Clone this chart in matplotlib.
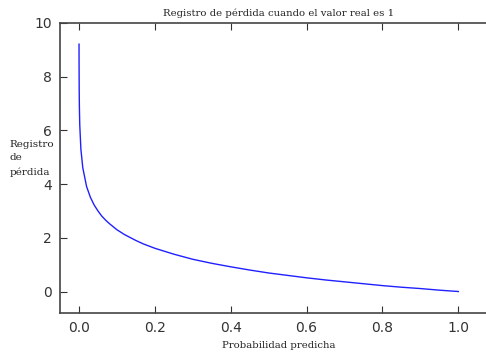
import matplotlib
matplotlib.use('Agg')
import matplotlib.pyplot as plt

# predicted probability vs log loss (true label = 1)
prob = [0.0001, 0.0002, 0.0005, 0.001, 0.002, 0.005, 0.01, 0.02, 0.03, 0.04,
        0.05, 0.06, 0.07, 0.08, 0.1, 0.12, 0.15, 0.17, 0.2, 0.25, 0.3, 0.35,
        0.4, 0.45, 0.5, 0.55, 0.6, 0.65, 0.7, 0.75, 0.8, 0.85, 0.9, 0.95, 1.0]
loss = [9.21, 8.52, 7.60, 6.91, 6.21, 5.30, 4.61, 3.91, 3.51, 3.22,
        3.00, 2.81, 2.66, 2.53, 2.30, 2.12, 1.90, 1.77, 1.61, 1.39, 1.20, 1.05,
        0.92, 0.80, 0.69, 0.60, 0.51, 0.43, 0.36, 0.29, 0.22, 0.16, 0.11, 0.05, 0.0]

xticks = [0.0, 0.2, 0.4, 0.6, 0.8, 1.0]
yticks = [0, 2, 4, 6, 8, 10]

fig = plt.figure(figsize=(4.86, 3.52), dpi=100)
# axes run past the right edge of the canvas, as in the original export
ax = fig.add_axes([0.1235, 0.1108, 0.9, 0.824])
ax.plot(prob, loss, color='#2020ff', linewidth=1.0)

ax.set_xlim(-0.05, 1.103)
ax.set_ylim(-0.8, 10)
ax.set_xticks(xticks)
ax.set_yticks(yticks)
ax.set_xticklabels(['%.1f' % v for v in xticks])
ax.tick_params(direction='in', top=True, right=True, length=5, width=0.8,
               labelsize=10, colors='#333333', labelcolor='#333333', pad=6)
for s in ax.spines.values():
    s.set_color('#444444')
    s.set_linewidth(1.2)

serif = ['DejaVu Serif']
ax.set_title('Registro de pérdida cuando el valor real es 1', fontsize=7.3,
             family=serif, color='#222222', pad=5)
ax.set_xlabel('Probabilidad predicha', fontsize=7.3, family=serif,
              color='#222222', labelpad=4)
fig.text(0.02, 0.55, 'Registro\nde\npérdida', fontsize=7.5, family=serif,
         color='#222222', ha='left', va='center', linespacing=1.7)

fig.savefig('out.png', dpi=100)
